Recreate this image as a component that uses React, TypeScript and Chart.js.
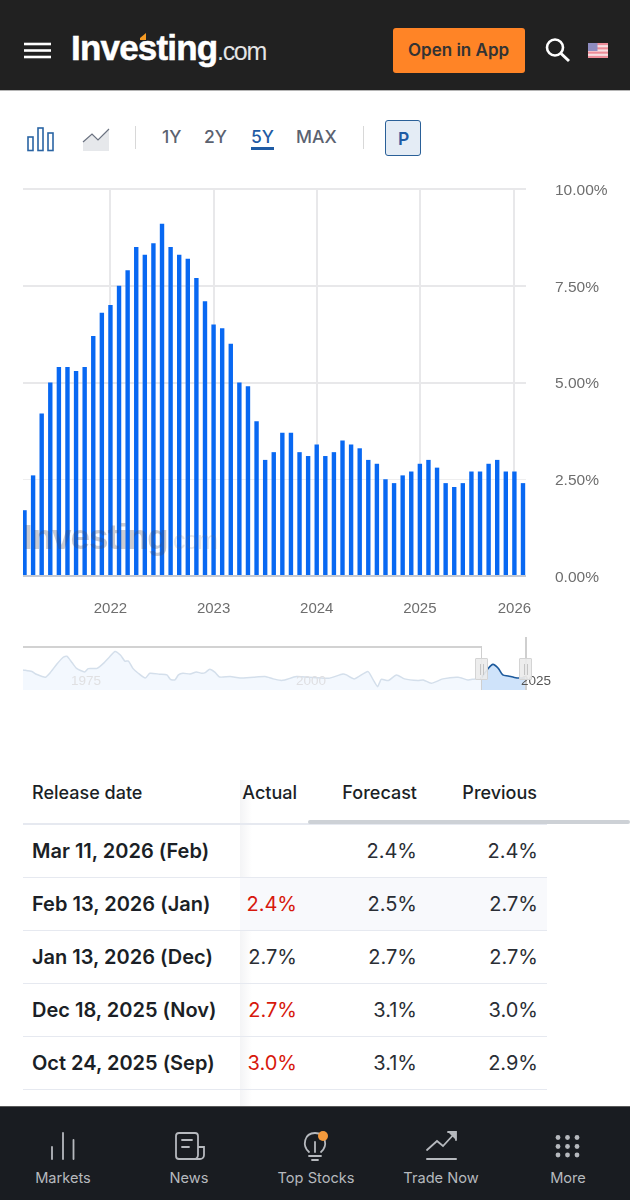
import React, { useEffect, useRef } from "react";
import { Chart, registerables } from "chart.js";

Chart.register(...registerables);

// release month of every bar (no release in Nov 2025)
const releases = [
  "Mar 2021", "Apr 2021", "May 2021", "Jun 2021", "Jul 2021", "Aug 2021", "Sep 2021", "Oct 2021", "Nov 2021", "Dec 2021",
  "Jan 2022", "Feb 2022", "Mar 2022", "Apr 2022", "May 2022", "Jun 2022", "Jul 2022", "Aug 2022", "Sep 2022", "Oct 2022", "Nov 2022", "Dec 2022",
  "Jan 2023", "Feb 2023", "Mar 2023", "Apr 2023", "May 2023", "Jun 2023", "Jul 2023", "Aug 2023", "Sep 2023", "Oct 2023", "Nov 2023", "Dec 2023",
  "Jan 2024", "Feb 2024", "Mar 2024", "Apr 2024", "May 2024", "Jun 2024", "Jul 2024", "Aug 2024", "Sep 2024", "Oct 2024", "Nov 2024", "Dec 2024",
  "Jan 2025", "Feb 2025", "Mar 2025", "Apr 2025", "May 2025", "Jun 2025", "Jul 2025", "Aug 2025", "Sep 2025", "Oct 2025", "Dec 2025",
  "Jan 2026", "Feb 2026",
];
const cpiValues = [
  1.7, 2.6, 4.2, 5.0, 5.4, 5.4, 5.3, 5.4, 6.2, 6.8,
  7.0, 7.5, 7.9, 8.5, 8.3, 8.6, 9.1, 8.5, 8.3, 8.2, 7.7, 7.1,
  6.5, 6.4, 6.0, 5.0, 4.9, 4.0, 3.0, 3.2, 3.7, 3.7, 3.2, 3.1,
  3.4, 3.1, 3.2, 3.5, 3.4, 3.3, 3.0, 2.9, 2.5, 2.4, 2.6, 2.7,
  2.9, 3.0, 2.8, 2.4, 2.3, 2.4, 2.7, 2.7, 2.9, 3.0, 2.7,
  2.7, 2.4,
];
const yTicks = [0, 2.5, 5, 7.5, 10];

// navigator overview
const navYears = [
  1969.9, 1970.9, 1971.4, 1972.4, 1972.9, 1973.7, 1974.4, 1974.8, 1975.4, 1975.9, 1976.8, 1977.2, 1978.2, 1978.9, 1979.6,
  1980.2, 1980.8, 1981.3, 1981.7, 1982.2, 1982.8, 1983.6, 1984.1, 1985.2, 1986.0, 1986.4, 1986.9, 1987.3, 1987.8, 1988.6,
  1989.3, 1989.9, 1990.3, 1990.8, 1991.4, 1991.9, 1993.1, 1994.2, 1995.7, 1997.0, 1997.9, 1998.7, 1999.2, 2000.5, 2001.8,
  2004.1, 2005.7, 2006.1, 2007.0, 2008.5, 2009.1, 2009.6, 2010.0, 2010.8, 2011.7, 2012.6, 2014.1, 2014.7, 2015.6, 2016.9,
  2018.6, 2019.7, 2020.5, 2021.1,
];
const navValues = [
  6.0, 5.2, 3.9, 2.5, 4.4, 8.8, 12.0, 12.5, 9.4, 6.7, 5.0, 6.6, 6.7, 9.1, 12.3,
  14.8, 13.1, 10.2, 10.2, 6.7, 4.4, 2.1, 4.4, 3.9, 3.6, 1.5, 1.2, 3.6, 4.4, 4.0,
  5.0, 4.4, 4.7, 6.3, 4.8, 2.6, 2.8, 2.1, 2.5, 2.8, 1.7, 1.0, 1.2, 2.8, 2.5,
  2.0, 4.0, 3.6, 1.7, 5.2, 1.2, -2.0, 1.5, 0.9, 3.6, 1.7, 0.9, 1.2, -0.4, 1.7,
  2.5, 1.2, 1.7, 1.6,
];
const navSelectedYears = [2021.1, 2021.9, 2022.5, 2023.1, 2023.6, 2024.2, 2024.9, 2025.5, 2026.2];
const navSelectedValues = [1.6, 6.3, 8.6, 6.7, 3.6, 3.1, 2.4, 2.1, 2.1];

const tableDates = ["Mar 11, 2026 (Feb)", "Feb 13, 2026 (Jan)", "Jan 13, 2026 (Dec)", "Dec 18, 2025 (Nov)", "Oct 24, 2025 (Sep)"];
const tableActual = ["", "2.4%", "2.7%", "2.7%", "3.0%"];
const tableForecast = ["2.4%", "2.5%", "2.7%", "3.1%", "3.1%"];
const tablePrevious = ["2.4%", "2.7%", "2.7%", "3.0%", "2.9%"];
const actualRed = [false, true, false, true, true];
const navLabels = ["Markets", "News", "Top Stocks", "Trade Now", "More"];
const navLabelX = [63, 189, 316, 441, 568];

const INTER = "Inter, sans-serif";
const HELV = "'Liberation Sans', Arial, sans-serif";

const Txt = ({ x, y, right, size, color, weight, font, children, spacing, stroke }: any) => (
  <div
    style={{
      position: "absolute",
      top: y - size,
      height: size * 2,
      lineHeight: `${size * 2}px`,
      left: right === undefined ? x : undefined,
      right: right === undefined ? undefined : 630 - right,
      fontSize: size,
      color,
      fontWeight: weight || 400,
      fontFamily: font || INTER,
      letterSpacing: spacing,
      whiteSpace: "nowrap",
      WebkitTextStroke: stroke,
    }}
  >
    {children}
  </div>
);

const Box = ({ x, y, w, h, style }: any) => (
  <div style={{ position: "absolute", left: x, top: y, width: w, height: h, ...style }} />
);

const Handle = ({ x }: any) => (
  <div
    style={{
      position: "absolute",
      left: x,
      top: 658,
      width: 13,
      height: 22,
      boxSizing: "border-box",
      background: "rgba(236,236,236,0.92)",
      border: "1px solid #d4d4d4",
      borderRadius: 1,
    }}
  >
    <Box x={3.5} y={5} w={1.5} h={11} style={{ background: "#c4c4c4" }} />
    <Box x={6.5} y={5} w={1.5} h={11} style={{ background: "#c4c4c4" }} />
  </div>
);

const Icons = () => (
  <svg width={630} height={1200} style={{ position: "absolute", left: 0, top: 0, pointerEvents: "none" }}>
    {/* hamburger */}
    <g stroke="#fff" strokeWidth={2.6}>
      <line x1={24} x2={51} y1={44} y2={44} />
      <line x1={24} x2={51} y1={50.5} y2={50.5} />
      <line x1={24} x2={51} y1={57} y2={57} />
    </g>
    {/* logo accent */}
    <path d="M140 38 L146 33 L146 40 L140 40 Z" fill="#f59a23" />
    {/* search */}
    <circle cx={555} cy={47.5} r={8} fill="none" stroke="#fff" strokeWidth={2.6} />
    <line x1={561} y1={53.5} x2={569} y2={61} stroke="#fff" strokeWidth={3} />
    {/* flag */}
    <g>
      <rect x={588} y={43} width={20} height={15} fill="#f7dfe2" />
      {[43, 47.3, 51.6, 55.9].map((y) => (
        <rect key={y} x={588} y={y} width={20} height={2.1} fill="#ee8c98" />
      ))}
      <rect x={588} y={43} width={9.5} height={8} fill="#8e8cc0" />
    </g>
    {/* bars icon */}
    <g fill="none" stroke="#2a64a4" strokeWidth={1.6}>
      <rect x={28} y={137} width={5} height={13.5} />
      <rect x={38} y={128} width={5} height={22.5} />
      <rect x={48} y={133} width={5} height={17.5} />
    </g>
    {/* area icon */}
    <path d="M83 142 L92 134 L98 140 L109 129 L109 151 L83 151 Z" fill="#e6e8eb" />
    <path d="M83 142 L92 134 L98 140 L109 129" fill="none" stroke="#6b7280" strokeWidth={1.2} />
    {/* bottom nav */}
    <g stroke="#b6b9be" strokeWidth={1.8} fill="none" strokeLinecap="round">
      <line x1={52} x2={52} y1={1147} y2={1159} />
      <line x1={63} x2={63} y1={1133} y2={1159} />
      <line x1={73.5} x2={73.5} y1={1140} y2={1159} />

      <path d="M198 1150 V1136 a3 3 0 0 0 -3 -3 H179 a3 3 0 0 0 -3 3 V1156 a3 3 0 0 0 3 3 H200 a4 4 0 0 0 4 -4 V1147 H198 V1155 a4 4 0 0 1 -4 4" />
      <line x1={182} x2={192} y1={1140} y2={1140} />
      <line x1={182} x2={189} y1={1147} y2={1147} />

      <path d="M309 1152 C302 1146 304 1133 315 1133 C326 1133 328 1146 321 1152" />
      <line x1={315} x2={315} y1={1142} y2={1152} />
      <line x1={309} x2={321} y1={1156} y2={1156} />
      <line x1={312} x2={318} y1={1160} y2={1160} />

      <path d="M427 1150 L437 1141 L443 1146 L455 1133" />
      <path d="M448 1132 L456 1132 L456 1140" fill="#b6b9be" />
      <line x1={427} x2={456} y1={1159} y2={1159} strokeWidth={2} />
    </g>
    <circle cx={323} cy={1136} r={5} fill="#f59a3c" />
    <g fill="#b6b9be">
      {[558, 567.5, 577].map((x) =>
        [1137.5, 1146.5, 1155].map((y) => <circle key={`${x}-${y}`} cx={x} cy={y} r={2.4} />)
      )}
    </g>
  </svg>
);

export default function App() {
  const mainRef = useRef<HTMLCanvasElement>(null);
  const overviewRef = useRef<HTMLCanvasElement>(null);

  useEffect(() => {
    if (!mainRef.current || !overviewRef.current) return;

    const yearTicks = releases.map((r, i) => (r.startsWith("Jan") ? i : -1)).filter((i) => i >= 0);

    const main = new Chart(mainRef.current, {
      type: "bar",
      data: {
        datasets: [
          {
            data: cpiValues.map((v, i) => ({ x: i, y: v })),
            backgroundColor: "#0868f2",
            barThickness: 4.4,
            inflateAmount: 0,
          },
        ],
      },
      options: {
        responsive: false,
        animation: false,
        layout: { padding: { left: 23, top: 9 } },
        plugins: { legend: { display: false }, tooltip: { enabled: false } },
        scales: {
          x: {
            type: "linear",
            offset: false,
            min: -0.175,
            max: 58.35,
            afterBuildTicks: (scale: any) => {
              scale.ticks = yearTicks.map((value) => ({ value }));
            },
            afterFit: (scale: any) => {
              scale.height = 54;
              scale.paddingLeft = 0;
              scale.paddingRight = 0;
            },
            grid: { color: "#e8e8ea", lineWidth: 2, drawTicks: false, offset: false },
            border: { display: false },
            ticks: {
              autoSkip: false,
              maxRotation: 0,
              padding: 24,
              color: "#6e6e6e",
              font: { family: HELV, size: 15 },
              callback: (v: any) => releases[v]?.slice(4),
            },
          },
          y: {
            position: "right",
            min: 0,
            max: 10,
            afterBuildTicks: (scale: any) => {
              scale.ticks = yTicks.map((value) => ({ value }));
            },
            afterFit: (scale: any) => {
              scale.width = 104;
              scale.paddingTop = 0;
              scale.paddingBottom = 0;
              // labels sit a little lower than the grid lines in the original
              if (!scale._shifted) {
                scale._shifted = true;
                const drawLabels = scale.drawLabels;
                scale.drawLabels = function (area: any) {
                  this.ctx.save();
                  this.ctx.translate(0, 1.5);
                  drawLabels.call(this, area);
                  this.ctx.restore();
                };
              }
            },
            grid: {
              drawTicks: false,
              color: (c: any) => (c.tick.value === 0 ? "#c6cad2" : c.tick.value === 2.5 ? "#eeeeef" : "#e8e8ea"),
              lineWidth: (c: any) => (c.tick.value === 2.5 ? 1 : 2),
            },
            border: { display: false },
            ticks: {
              padding: 29,
              color: "#6e6e6e",
              font: { family: HELV, size: 15.5 },
              callback: (v: any) => Number(v).toFixed(2) + "%",
            },
          },
        },
      },
    } as any);

    const overview = new Chart(overviewRef.current, {
      type: "line",
      data: {
        datasets: [
          {
            data: navYears.map((x, i) => ({ x, y: navValues[i] })),
            borderColor: "#d4dfeb",
            borderWidth: 1.5,
            backgroundColor: "#f3f8fe",
            fill: "start",
            pointRadius: 0,
            tension: 0.2,
          },
          {
            data: navSelectedYears.map((x, i) => ({ x, y: navSelectedValues[i] })),
            borderColor: "#1d5a9c",
            borderWidth: 1.6,
            backgroundColor: "#cfe3fa",
            fill: "start",
            pointRadius: 0,
            tension: 0.3,
          },
        ],
      },
      options: {
        responsive: false,
        animation: false,
        layout: { padding: { left: 23, right: 104, top: 7, bottom: 5 } },
        plugins: { legend: { display: false }, tooltip: { enabled: false } },
        scales: {
          x: { type: "linear", display: false, min: 1969.9, max: 2026.2 },
          y: { display: false, min: -3.6, max: 16.9 },
        },
      },
    } as any);

    return () => {
      main.destroy();
      overview.destroy();
    };
  }, []);

  const rowY = [851, 904, 957, 1010, 1063];
  const sepY = [876.5, 929.5, 982.5, 1035.5, 1088.5];

  return (
    <div style={{ position: "relative", width: 630, height: 1200, overflow: "hidden", background: "#fff", fontFamily: INTER }}>
      <style>{"body{margin:0}"}</style>

      {/* header */}
      <Box x={0} y={0} w={630} h={90} style={{ background: "#212121" }} />
      <Box x={0} y={90} w={630} h={1} style={{ background: "#b5b5b5" }} />
      <Txt x={71} y={48} size={35} color="#fff" weight={700} font={HELV} spacing={-0.8} stroke="0.5px #fff">Investing</Txt>
      <Txt x={217} y={51} size={25} color="#e4e4e4" font={HELV} spacing={-1.3}>.com</Txt>
      <Box x={393} y={28} w={132} h={45} style={{ background: "#ff8426", borderRadius: 3 }} />
      <Txt x={408} y={50} size={17} color="#333" weight={600}>Open in App</Txt>

      {/* toolbar */}
      <Box x={135} y={126} w={1} h={23} style={{ background: "#d8d8d8" }} />
      <Box x={363} y={126} w={1} h={23} style={{ background: "#d8d8d8" }} />
      <Txt x={162} y={136} size={17.5} color="#5b6270" weight={500}>1Y</Txt>
      <Txt x={204} y={136} size={17.5} color="#5b6270" weight={500}>2Y</Txt>
      <Txt x={251} y={136} size={17.5} color="#1f5ba4" weight={500}>5Y</Txt>
      <Box x={251} y={147} w={23} h={3} style={{ background: "#1f5ba4" }} />
      <Txt x={296} y={136} size={17.5} color="#5b6270" weight={500}>MAX</Txt>
      <Box
        x={385}
        y={120}
        w={36}
        h={36}
        style={{ boxSizing: "border-box", background: "#e4ecf5", border: "1.5px solid #2a6098", borderRadius: 3 }}
      />
      <Txt x={398} y={138} size={17.5} color="#1f5ba4" weight={600}>P</Txt>

      {/* main chart */}
      <canvas ref={mainRef} width={630} height={450} style={{ position: "absolute", left: 0, top: 180 }} />
      <Box x={23} y={575.5} w={503} h={1.5} style={{ background: "#c6cad2" }} />
      <Txt x={23} y={537} size={35} color="rgba(70,70,85,0.28)" weight={700} font={HELV} spacing={-1}>Investing</Txt>
      <Txt x={167} y={540} size={25} color="rgba(110,110,120,0.18)" font={HELV} spacing={-1}>.com</Txt>

      {/* navigator */}
      <canvas ref={overviewRef} width={630} height={55} style={{ position: "absolute", left: 0, top: 640 }} />
      <Box x={23} y={646} w={458} h={2} style={{ background: "#d2d2d2" }} />
      <Box x={480.5} y={646} w={1.5} h={44} style={{ background: "#cfcfcf" }} />
      <Box x={525} y={637} w={1.5} h={53} style={{ background: "#cfcfcf" }} />
      <Txt x={71} y={680} size={13.5} color="#e0e0e2" font={HELV}>1975</Txt>
      <Txt x={296} y={680} size={13.5} color="#dfdfe2" font={HELV}>2000</Txt>
      <Txt x={521} y={680} size={13.5} color="#555" font={HELV}>2025</Txt>
      <Handle x={475} />
      <Handle x={519} />

      {/* table */}
      <Box x={240} y={780} w={12} h={326} style={{ background: "linear-gradient(to right, rgba(30,40,70,0.05), rgba(30,40,70,0))" }} />
      <Box x={240} y={878} w={307} h={52} style={{ background: "#f8f9fc" }} />
      <Box x={23} y={823} w={524} h={1.5} style={{ background: "#e6e9f0" }} />
      <Box x={308} y={820} w={322} h={4} style={{ background: "#cdd1d6", borderRadius: 2 }} />
      {sepY.map((y) => (
        <Box key={y} x={23} y={y} w={524} h={1.5} style={{ background: "#e6e9f0" }} />
      ))}
      <Txt x={32} y={793} size={18} color="#1b1f26" weight={500}>Release date</Txt>
      <Txt right={297} y={793} size={18} color="#1b1f26" weight={500}>Actual</Txt>
      <Txt right={417} y={793} size={18} color="#1b1f26" weight={500}>Forecast</Txt>
      <Txt right={537} y={793} size={18} color="#1b1f26" weight={500}>Previous</Txt>
      {tableDates.map((d, i) => (
        <React.Fragment key={d}>
          <Txt x={32} y={rowY[i]} size={20} color="#1b1f26" weight={600}>{d}</Txt>
          <Txt right={297} y={rowY[i]} size={20} color={actualRed[i] ? "#d7180c" : "#2a2e35"}>{tableActual[i]}</Txt>
          <Txt right={417} y={rowY[i]} size={20} color="#2a2e35">{tableForecast[i]}</Txt>
          <Txt right={538} y={rowY[i]} size={20} color="#2a2e35">{tablePrevious[i]}</Txt>
        </React.Fragment>
      ))}

      {/* bottom nav */}
      <Box x={0} y={1106} w={630} h={94} style={{ background: "#191c21", borderTop: "1.5px solid #5a5a5a", boxSizing: "border-box" }} />
      {navLabels.map((label, i) => (
        <div
          key={label}
          style={{
            position: "absolute",
            left: navLabelX[i] - 80,
            width: 160,
            top: 1166,
            textAlign: "center",
            fontSize: 14.6,
            lineHeight: "24px",
            color: "#b6b9be",
            fontFamily: INTER,
          }}
        >
          {label}
        </div>
      ))}

      <Icons />
    </div>
  );
}
